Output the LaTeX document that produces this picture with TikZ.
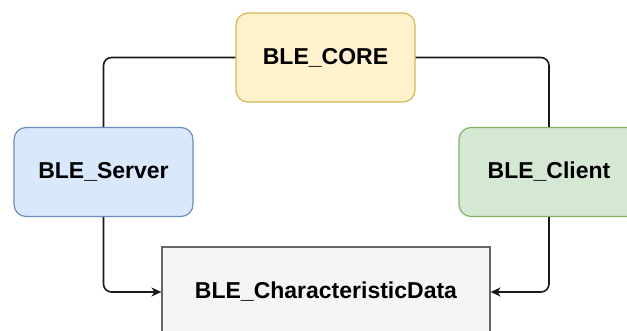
\documentclass[tikz,border=0pt]{standalone}
\usepackage{fontspec}
\setmainfont{Liberation Sans}
\usetikzlibrary{arrows.meta}
\definecolor{coreFill}{HTML}{FFF2CC}\definecolor{coreLine}{HTML}{D6B656}
\definecolor{srvFill}{HTML}{DAE8FC}\definecolor{srvLine}{HTML}{6C8EBF}
\definecolor{cliFill}{HTML}{D5E8D4}\definecolor{cliLine}{HTML}{82B366}
\definecolor{datFill}{HTML}{F5F5F5}\definecolor{datLine}{HTML}{666666}
\definecolor{wire}{HTML}{1A1A1A}
\begin{document}
\begin{tikzpicture}[x=1pt,y=-1pt,
  block/.style={draw, line width=1.2pt, rounded corners=12pt, minimum height=89pt,
    inner sep=0pt, font=\fontsize{23}{26}\selectfont\bfseries},
  flat/.style={block, rounded corners=0pt},
  link/.style={draw=wire, line width=1.6pt, rounded corners=8pt},
  feed/.style={link, -{Stealth[length=10pt,width=9pt,inset=3pt]}}]
  \useasboundingbox (0,0) rectangle (627,331);
  \clip (0,0) rectangle (627,331);
  \node[block, fill=coreFill, draw=coreLine, minimum width=179pt] (core) at (325.5,57.5) {BLE\_CORE};
  \node[block, fill=srvFill, draw=srvLine, minimum width=179pt] (server) at (103.5,172) {BLE\_Server};
  \node[block, fill=cliFill, draw=cliLine, minimum width=180pt] (client) at (549,172) {BLE\_Client};
  \node[flat, fill=datFill, draw=datLine, minimum width=328pt, minimum height=90pt] (data) at (326,292) {BLE\_CharacteristicData};
  \draw[link] (core.west) -| (server.north);
  \draw[link] (core.east) -| (client.north);
  \draw[feed] (server.south) |- (data.west);
  \draw[feed] (client.south) |- (data.east);
\end{tikzpicture}
\end{document}
